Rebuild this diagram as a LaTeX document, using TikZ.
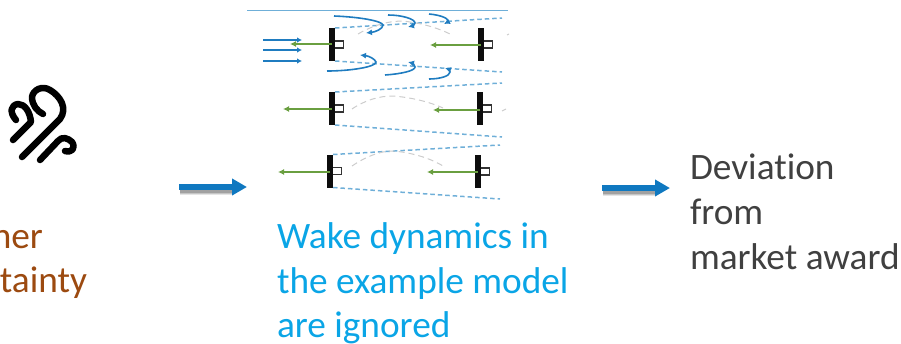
\documentclass[tikz,border=0pt]{standalone}
\usepackage{fontspec}
\setmainfont[Ligatures=NoCommon]{Carlito}
\usetikzlibrary{arrows.meta}
\definecolor{flowblue}{HTML}{1F7CC0}
\definecolor{bigblue}{HTML}{0F78C0}
\definecolor{wakeblue}{HTML}{6FAFD8}
\definecolor{linkgreen}{HTML}{6A9F40}
\definecolor{txtblue}{HTML}{0AA5E6}
\definecolor{txtbrown}{HTML}{9C4A10}
\definecolor{txtdark}{HTML}{404040}
\tikzset{
  x=1pt,y=-1pt,
  blade/.style={fill=black!95,draw=none,minimum width=6pt,minimum height=33pt,inner sep=0pt,outer sep=0pt},
  nacelle/.style={draw=black!80,line width=1.1pt,fill=white,minimum width=8.5pt,minimum height=7pt,inner sep=0pt,outer sep=0pt,anchor=west},
  wakeedge/.style={draw=wakeblue,line width=1.5pt,dash pattern=on 4.5pt off 3pt},
  graywake/.style={draw=black!20,line width=1pt,dash pattern=on 6pt off 4pt},
  thrust/.style={draw=linkgreen,line width=1.5pt,-{Latex[length=6pt,width=6pt]}},
  inflow/.style={draw=flowblue,line width=1.5pt,-{Latex[length=5pt,width=5.5pt]}},
  swirl/.style={draw=flowblue,line width=1.6pt,-{Latex[length=6pt,width=6pt]}},
  bigarrow/.style={draw=bigblue,line width=6pt,-{Triangle[length=15pt,width=16pt]}},
  caption/.style={font=\fontsize{37.3}{44.7}\selectfont,align=left,anchor=north west,inner sep=0pt,outer sep=0pt},
  clipped/.style={font=\fontsize{37.3}{44.7}\selectfont,text=txtbrown,anchor=base east,inner sep=0pt,outer sep=0pt},
  windline/.style={draw=black,line width=6.5pt,line cap=round,line join=round},
}
\begin{document}
\begin{tikzpicture}
\useasboundingbox (0,0) rectangle (901,343);
\clip (0,0) rectangle (901,343);
% top line
\coordinate (topa) at (247,10); \coordinate (topb) at (508,10);
\draw[wakeblue,line width=0.9pt] (topa) -- (topb);
% wind icon
\draw[windline] (22,157) -- (60,119) .. controls (68,108) and (60,96) .. (50,90) .. controls (42,85) and (33,90) .. (32,97) .. controls (32,105) and (37,111) .. (43,114);
\draw[windline] (13,140) -- (31,122) .. controls (30,112) and (25,104) .. (18,104) .. controls (11,105) and (9,112) .. (16,120);
\draw[windline] (40,160) -- (58,141) .. controls (62,136) and (68,138) .. (72,142) .. controls (76,148) and (72,153) .. (65,151);
% turbines
\foreach \n/\xa/\xb/\ya/\yb/\xt/\xu/\ymid/\ymidb in {
 a/332/481/44.5/44.5/290/430/44/45,
 b/332/480/108.5/108.5/283/433/109/110,
 c/330/478/171/171.5/278/427/172/172}{
  \node[nacelle] (box\n) at (\xa+2.7,\ya) {};
  \node[nacelle] (boxR\n) at (\xb+2.7,\yb) {};
  \node[blade] (blade\n) at (\xa,\ya) {};
  \node[blade] (bladeR\n) at (\xb,\yb) {};
  \coordinate (tip\n) at (\xt,\ymid);
  \coordinate (tipR\n) at (\xu,\ymidb);
  \draw[thrust] (\xa,\ymid) -- (tip\n);
  \draw[thrust] (\xb,\ymidb) -- (tipR\n);
}
% wake edges
\coordinate (wa1) at (502,18); \coordinate (wa2) at (502,72);
\coordinate (wb1) at (502,83); \coordinate (wb2) at (502,137);
\coordinate (wc1) at (500,145); \coordinate (wc2) at (500,199);
\draw[wakeedge] (bladea.north east) -- (wa1);
\draw[wakeedge] (bladea.south east) -- (wa2);
\draw[wakeedge] (bladeb.north east) -- (wb1);
\draw[wakeedge] (bladeb.south east) -- (wb2);
\draw[wakeedge] (bladec.north east) -- (wc1);
\draw[wakeedge] (bladec.south east) -- (wc2);
% gray wake centres
\draw[graywake] (358,34) .. controls (375,24) and (395,19) .. (410,22) .. controls (425,24) and (440,29) .. (450,34);
\draw[graywake] (352,109) .. controls (365,100) and (380,96) .. (392,96) .. controls (410,97) and (430,102) .. (443,108);
\draw[graywake] (352,166) .. controls (365,157) and (380,151) .. (392,151) .. controls (410,152) and (430,158) .. (443,166);
\draw[graywake] (502,111) -- (506,109);
\draw[graywake] (507,35) -- (509,34);
% inflow
\foreach \y/\k in {40/1,50/2,61/3}{
  \coordinate (ins\k) at (263,\y); \coordinate (ine\k) at (302,\y);
  \draw[inflow] (ins\k) -- (ine\k);
}
% swirls
\draw[swirl] (334,16) .. controls (360,17) and (382,21) .. (383,25) .. controls (383,29) and (375,32) .. (366,33);
\draw[swirl] (388,15) .. controls (402,15) and (415,19) .. (415,23) .. controls (415,25) and (412,26) .. (408,27);
\draw[swirl] (429,14) .. controls (440,15) and (448,18) .. (448,21) .. controls (447,22) and (446,23) .. (444,24);
\draw[swirl] (327,71) .. controls (350,71) and (376,67) .. (376,62) .. controls (375,59) and (369,56) .. (360,55);
\draw[swirl] (385,75) .. controls (400,74) and (415,71) .. (415,67) .. controls (415,65) and (412,63) .. (408,62);
\draw[swirl] (429,79) .. controls (440,79) and (450,76) .. (450,72) .. controls (450,70) and (448,69) .. (445,68);
% big arrows with soft shadow
\coordinate (ba) at (179,187); \coordinate (bb) at (247,187);
\coordinate (bc) at (602,188); \coordinate (bd) at (670,188);
\foreach \w/\o in {9/0.10,7/0.14,5/0.18}{
  \draw[black,line width=\w pt,opacity=\o] (180,190) -- (234,190);
  \draw[black,line width=\w pt,opacity=\o] (603,191) -- (657,191);
}
\draw[bigarrow] (ba) -- (bb);
\draw[bigarrow] (bc) -- (bd);
% text
\node[caption,text=txtblue] (wake) at (277,222.5) {Wake dynamics in\\the example model\\are ignored};
\node[caption,text=txtdark] (dev) at (690,154) {Deviation\\from\\market award};
\node[clipped] (ner) at (43,248) {ner};
\node[clipped] (unc) at (87,292) {tainty};
\end{tikzpicture}
\end{document}
